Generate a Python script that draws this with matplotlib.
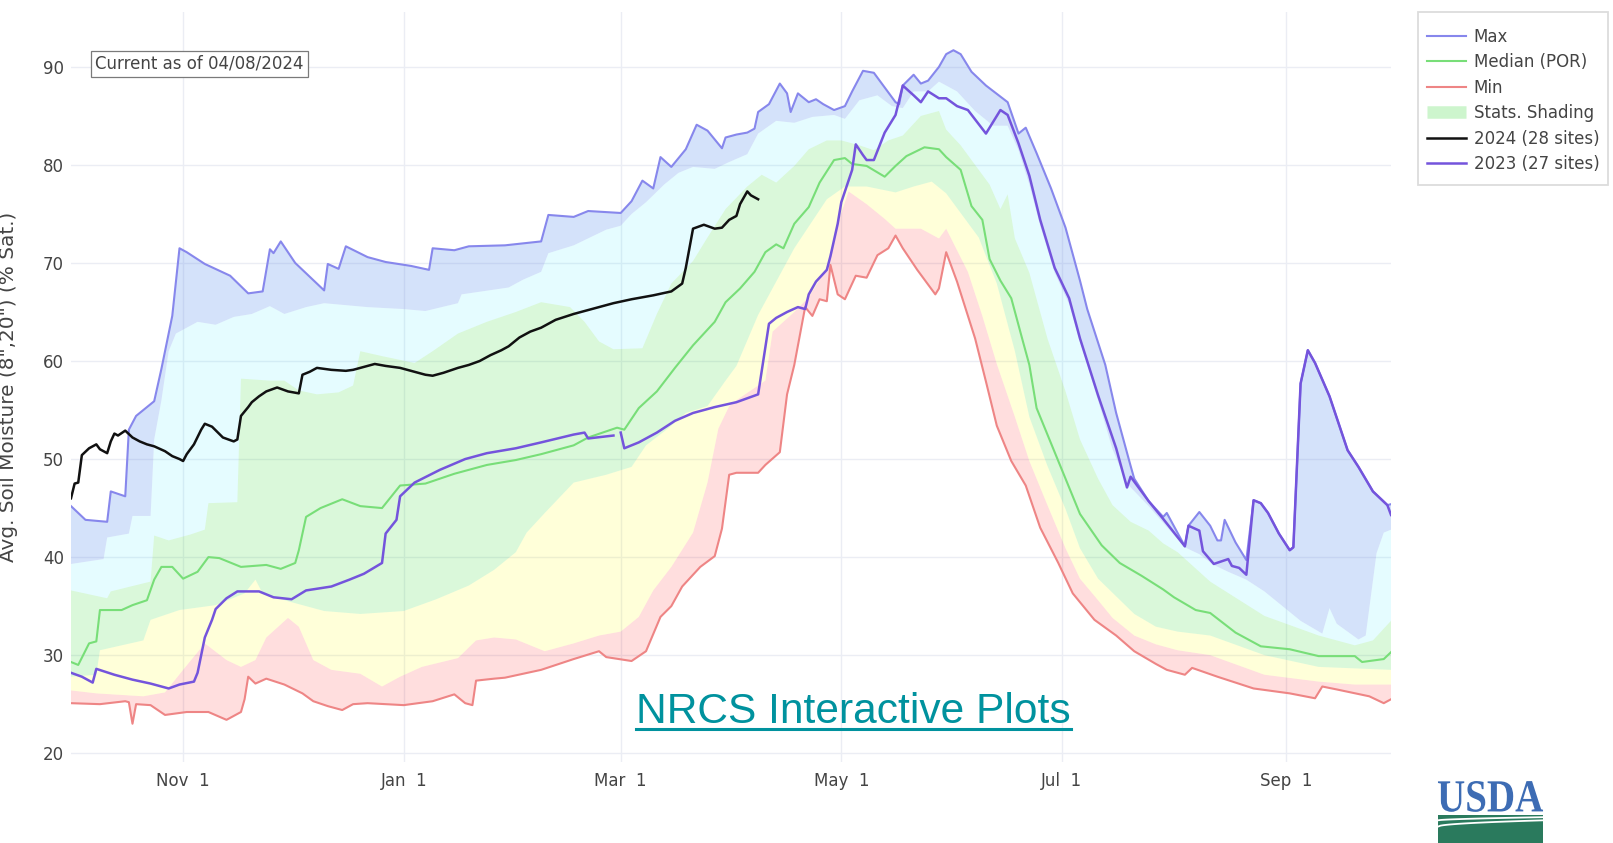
"""
Average soil moisture (8" and 20" depths) for the water year, with
period-of-record statistics shading and the 2023 / 2024 traces.
"""

import numpy as np
import matplotlib
matplotlib.use('Agg')
import matplotlib.pyplot as plt
import matplotlib.dates as mdates
from matplotlib.lines import Line2D
from matplotlib.patches import PathPatch, Rectangle
from matplotlib.textpath import TextPath
from matplotlib.font_manager import FontProperties
from matplotlib.transforms import Affine2D
from matplotlib.ticker import FuncFormatter

# ----------------------------------------------------------------
# Data: day of water year (0 = Oct 1) and % saturation
# ----------------------------------------------------------------
WY_START = np.datetime64('2023-10-01')
WY_END = np.datetime64('2024-09-30')

max_day = [0, 4, 10, 11, 15, 16, 18, 23, 25, 28, 30, 32, 37, 44, 49, 53, 55, 56, 58, 62,
           70, 71, 74, 76, 82, 87, 94, 99, 100, 106, 110, 120, 130, 132, 139, 143, 152, 155, 158, 161,
           163, 166, 170, 173, 176, 180, 181, 184, 187, 189, 190, 193, 196, 198, 199, 201, 204, 206, 208, 211,
           214, 216, 219, 222, 225, 228, 229, 230, 233, 235, 237, 240, 242, 244, 246, 249, 253, 259, 262, 264,
           267, 271, 275, 279, 281, 286, 289, 293, 294, 298, 302, 303, 308, 309, 312, 315, 317, 318, 319, 322,
           325, 327, 329, 331, 334, 337, 338, 340, 342, 344, 348, 353, 356, 360, 364, 365]
max_pct = [45.2, 43.8, 43.6, 46.7, 46.2, 53.0, 54.4, 55.9, 59.2, 64.6, 71.5, 71.1, 69.9, 68.7, 66.9, 67.1, 71.4, 71.0, 72.2, 70.0,
           67.2, 69.9, 69.4, 71.7, 70.6, 70.1, 69.7, 69.3, 71.5, 71.3, 71.7, 71.8, 72.2, 74.9, 74.7, 75.3, 75.1, 76.3, 78.4, 77.6,
           80.8, 79.8, 81.6, 84.1, 83.5, 81.7, 82.8, 83.1, 83.3, 83.7, 85.4, 86.2, 88.3, 87.3, 85.4, 87.3, 86.4, 86.7, 86.2, 85.6,
           86.0, 87.5, 89.6, 89.4, 87.9, 86.4, 86.2, 88.1, 89.2, 88.3, 88.6, 90.0, 91.3, 91.7, 91.3, 89.5, 88.1, 86.4, 83.2, 83.8,
           81.2, 77.6, 73.6, 68.2, 65.3, 59.6, 54.7, 49.3, 48.0, 45.7, 44.1, 44.5, 41.1, 43.2, 44.6, 43.2, 41.7, 41.7, 43.8, 41.5,
           39.7, 45.8, 45.5, 44.5, 42.4, 40.7, 41.0, 57.7, 61.1, 59.8, 56.4, 50.9, 49.2, 46.7, 45.3, 45.4]

median_day = [0, 2, 5, 7, 8, 14, 17, 21, 23, 25, 28, 31, 35, 38, 41, 47, 54, 58, 62, 63,
              65, 69, 75, 80, 86, 91, 98, 106, 115, 123, 130, 139, 143, 151, 153, 157, 162, 167, 172, 178,
              181, 185, 189, 192, 195, 197, 200, 204, 207, 211, 214, 216, 220, 225, 228, 231, 236, 240, 242, 246,
              249, 252, 254, 257, 260, 263, 265, 267, 272, 276, 279, 285, 290, 296, 302, 305, 311, 315, 322, 329,
              337, 345, 355, 357, 363, 365]
median_pct = [29.3, 29.0, 31.2, 31.4, 34.6, 34.6, 35.1, 35.6, 37.7, 39.0, 39.0, 37.8, 38.5, 40.0, 39.9, 39.0, 39.2, 38.8, 39.4, 40.7,
              44.1, 45.0, 45.9, 45.2, 45.0, 47.3, 47.5, 48.5, 49.4, 49.9, 50.5, 51.4, 52.2, 53.2, 53.0, 55.2, 56.9, 59.3, 61.6, 64.0,
              66.0, 67.4, 69.1, 71.1, 71.9, 71.5, 74.0, 75.7, 78.2, 80.5, 80.7, 80.1, 79.9, 78.8, 79.9, 80.9, 81.8, 81.6, 80.8, 79.5,
              75.8, 74.4, 70.4, 68.2, 66.4, 62.3, 59.6, 55.2, 50.7, 47.1, 44.4, 41.2, 39.4, 38.1, 36.7, 35.9, 34.6, 34.3, 32.3, 30.9,
              30.6, 29.9, 29.9, 29.3, 29.6, 30.3]

min_day = [0, 8, 15, 16, 17, 18, 22, 26, 32, 38, 43, 47, 48, 49, 51, 54, 59, 64, 67, 71,
           75, 78, 82, 87, 92, 100, 106, 109, 111, 112, 117, 120, 130, 139, 146, 148, 155, 159, 163, 166,
           169, 174, 178, 180, 182, 184, 190, 192, 196, 198, 200, 203, 205, 207, 209, 210, 212, 214, 217, 220,
           223, 226, 228, 230, 234, 239, 240, 242, 245, 250, 253, 256, 260, 264, 268, 273, 277, 283, 289, 294,
           300, 303, 308, 310, 317, 327, 337, 344, 346, 350, 359, 363, 365]
min_pct = [25.1, 25.0, 25.3, 25.2, 23.0, 25.0, 24.9, 23.9, 24.2, 24.2, 23.4, 24.2, 25.5, 27.8, 27.1, 27.6, 27.0, 26.1, 25.3, 24.8,
           24.4, 25.0, 25.1, 25.0, 24.9, 25.3, 26.0, 25.1, 24.9, 27.4, 27.6, 27.7, 28.5, 29.6, 30.4, 29.8, 29.4, 30.4, 33.9, 35.0,
           37.0, 39.0, 40.1, 42.9, 48.4, 48.6, 48.6, 49.4, 50.7, 56.6, 59.6, 65.5, 64.6, 66.3, 66.1, 69.8, 66.8, 66.3, 68.7, 68.5,
           70.8, 71.5, 72.8, 71.5, 69.3, 66.8, 67.4, 71.1, 68.1, 62.3, 57.9, 53.4, 49.8, 47.3, 43.0, 39.4, 36.3, 33.6, 32.0, 30.4,
           29.1, 28.5, 28.0, 28.7, 27.8, 26.6, 26.1, 25.6, 26.8, 26.5, 25.8, 25.1, 25.5]

# percentile edges of the statistics shading
p10_day = [0, 7, 20, 26, 31, 37, 43, 47, 51, 54, 60, 63, 67, 72, 80, 86, 91, 97, 107, 112,
           117, 123, 131, 139, 146, 152, 157, 161, 166, 172, 176, 179, 182, 184, 188, 192, 194, 200, 204, 209,
           212, 215, 220, 225, 228, 235, 240, 242, 248, 252, 256, 261, 265, 270, 275, 279, 284, 288, 294, 300,
           306, 315, 330, 345, 355, 365]
p10_pct = [26.4, 26.1, 25.8, 26.2, 28.5, 31.2, 29.5, 28.8, 29.5, 31.8, 33.8, 32.9, 29.5, 28.5, 28.1, 26.8, 27.8, 28.8, 29.7, 31.5,
           31.8, 31.6, 30.4, 31.2, 32.0, 32.4, 33.9, 36.6, 39.0, 42.5, 47.6, 53.1, 55.4, 56.0, 57.0, 58.0, 63.0, 65.0, 66.5, 69.5,
           74.0, 77.3, 76.0, 74.5, 73.5, 73.5, 72.5, 73.5, 69.1, 64.6, 59.7, 54.3, 49.8, 45.3, 40.9, 37.8, 35.6, 33.8, 32.0, 31.1,
           30.5, 30.0, 28.0, 27.3, 27.0, 27.0]

p30_day = [0, 7, 8, 20, 22, 30, 40, 48, 51, 53, 60, 70, 80, 92, 101, 110, 117, 123, 126, 131,
           139, 148, 155, 159, 165, 170, 176, 181, 184, 190, 200, 209, 214, 220, 228, 233, 238, 242, 251, 256,
           261, 265, 270, 275, 279, 284, 289, 294, 300, 306, 315, 330, 345, 365]
p30_pct = [27.8, 28.0, 30.5, 31.5, 33.6, 34.6, 35.1, 36.3, 37.7, 36.3, 35.5, 34.5, 34.2, 34.5, 35.7, 37.1, 38.7, 40.5, 42.5, 44.5,
           47.6, 48.4, 49.2, 51.4, 53.1, 54.7, 55.4, 58.0, 59.5, 64.7, 71.5, 76.5, 77.8, 77.8, 77.2, 77.8, 78.3, 77.1, 72.6, 67.9,
           61.0, 54.3, 49.3, 44.9, 40.9, 37.8, 36.0, 34.2, 32.9, 32.4, 32.0, 30.0, 28.8, 28.5]

p70_day = [0, 10, 11, 22, 23, 27, 33, 37, 38, 46, 47, 55, 59, 63, 68, 74, 78, 80, 86, 95,
           100, 107, 115, 123, 130, 138, 142, 146, 150, 158, 162, 166, 172, 176, 181, 187, 191, 195, 200, 204,
           209, 213, 218, 222, 226, 230, 235, 240, 242, 246, 250, 254, 257, 259, 261, 265, 270, 275, 279, 284,
           288, 293, 298, 302, 306, 315, 330, 345, 355, 360, 365]
p70_pct = [36.6, 35.8, 36.5, 37.5, 42.2, 41.7, 42.3, 42.8, 45.5, 45.6, 58.2, 58.0, 58.0, 57.0, 56.6, 56.8, 57.5, 61.0, 60.5, 59.8,
           61.0, 62.8, 64.0, 65.0, 66.0, 65.5, 64.0, 62.0, 61.2, 61.3, 64.8, 67.9, 70.2, 72.6, 75.5, 77.8, 79.0, 78.2, 79.9, 81.6,
           82.5, 82.5, 82.0, 81.5, 82.5, 83.0, 85.0, 85.5, 83.6, 82.0, 80.0, 78.0, 75.5, 77.0, 72.5, 69.0, 62.3, 56.9, 52.0, 48.0,
           45.3, 43.6, 42.7, 41.4, 40.5, 37.5, 34.0, 32.0, 31.0, 31.5, 33.5]

p90_day = [0, 9, 10, 16, 17, 22, 23, 25, 27, 29, 35, 40, 45, 50, 55, 59, 65, 70, 82, 92,
           98, 107, 108, 121, 125, 130, 132, 139, 148, 152, 155, 159, 164, 168, 172, 178, 182, 187, 190, 195,
           200, 205, 211, 214, 218, 223, 227, 230, 233, 237, 240, 245, 250, 255, 259, 262, 265, 268, 272, 276,
           279, 284, 288, 292, 298, 302, 308, 312, 316, 320, 325, 330, 335, 340, 346, 348, 350, 356, 358, 361,
           363, 365]
p90_pct = [39.3, 39.8, 42.0, 42.4, 44.2, 44.2, 52.0, 56.0, 61.0, 62.8, 64.0, 63.7, 64.5, 64.8, 65.6, 64.8, 65.5, 65.9, 65.5, 65.3,
           65.1, 65.9, 66.8, 67.5, 68.3, 69.1, 71.0, 71.8, 73.4, 73.8, 75.0, 76.2, 78.0, 79.2, 79.8, 79.6, 80.3, 81.1, 83.2, 84.5,
           84.3, 84.9, 85.1, 84.7, 86.6, 87.1, 86.0, 85.8, 87.5, 87.5, 88.5, 87.5, 85.5, 84.0, 84.0, 81.5, 78.0, 73.8, 69.0, 65.8,
           62.0, 56.0, 51.0, 47.5, 45.2, 43.5, 41.0, 40.3, 39.2, 38.5, 37.7, 36.5, 35.0, 33.5, 32.2, 34.8, 33.2, 31.6, 32.0, 40.4,
           42.5, 42.8]

wy2024_day = [0, 1, 2, 3, 5, 7, 8, 10, 11, 12, 13, 15, 17, 19, 21, 23, 26, 28, 30, 31,
              32, 34, 36, 37, 39, 42, 45, 46, 47, 49, 50, 52, 54, 57, 60, 63, 64, 66, 68, 72,
              76, 78, 81, 84, 87, 91, 94, 98, 100, 103, 107, 110, 113, 116, 119, 121, 124, 127, 130, 134,
              139, 144, 150, 155, 161, 166, 169, 170, 171, 172, 175, 178, 180, 182, 184, 185, 187, 188, 190]
wy2024_pct = [46.0, 47.5, 47.6, 50.4, 51.1, 51.5, 51.0, 50.6, 51.8, 52.6, 52.4, 52.9, 52.2, 51.8, 51.5, 51.3, 50.8, 50.3, 50.0, 49.8,
              50.5, 51.5, 53.0, 53.6, 53.3, 52.2, 51.8, 52.0, 54.4, 55.3, 55.8, 56.4, 56.9, 57.3, 56.9, 56.7, 58.6, 58.9, 59.3, 59.1,
              59.0, 59.1, 59.4, 59.7, 59.5, 59.3, 59.0, 58.6, 58.5, 58.8, 59.3, 59.6, 60.0, 60.6, 61.1, 61.5, 62.4, 63.0, 63.4, 64.2,
              64.8, 65.3, 65.9, 66.3, 66.7, 67.1, 67.9, 69.5, 71.5, 73.5, 73.9, 73.5, 73.6, 74.4, 74.8, 76.0, 77.3, 76.9, 76.5]

# nan marks the missing stretch at the end of February
wy2023_day = [0, 3, 6, 7, 12, 17, 22, 26, 27, 30, 34, 35, 37, 39, 40, 43, 46, 52, 56, 61,
              65, 72, 77, 81, 86, 87, 90, 91, 95, 102, 109, 115, 123, 130, 139, 142, 143, 150, 151, 152,
              153, 157, 162, 167, 172, 178, 184, 190, 191, 193, 195, 198, 201, 203, 204, 206, 209, 210, 212, 213,
              216, 217, 219, 220, 222, 225, 228, 230, 233, 235, 237, 240, 242, 245, 248, 253, 254, 257, 259, 262,
              265, 268, 272, 276, 279, 284, 289, 292, 293, 298, 302, 305, 308, 309, 312, 313, 316, 320, 321, 323,
              325, 327, 329, 331, 334, 337, 338, 340, 342, 344, 348, 353, 356, 360, 364, 365]
wy2023_pct = [28.2, 27.8, 27.2, 28.6, 28.0, 27.5, 27.1, 26.7, 26.6, 27.0, 27.3, 28.2, 31.8, 33.6, 34.7, 35.8, 36.5, 36.5, 35.9, 35.7,
              36.6, 37.0, 37.7, 38.3, 39.4, 42.4, 43.8, 46.2, 47.6, 48.9, 50.0, 50.6, 51.1, 51.7, 52.5, 52.7, 52.1, 52.4, np.nan, 52.7,
              51.1, 51.7, 52.7, 53.9, 54.7, 55.3, 55.8, 56.6, 59.0, 63.8, 64.4, 65.0, 65.5, 65.3, 66.8, 68.1, 69.3, 70.7, 74.0, 76.2,
              79.5, 82.1, 81.0, 80.5, 80.5, 83.3, 85.1, 88.1, 87.1, 86.4, 87.5, 86.8, 86.8, 86.0, 85.6, 83.2, 83.8, 85.6, 85.1, 82.2,
              78.9, 74.4, 69.5, 66.4, 62.3, 56.5, 51.1, 47.1, 48.2, 45.7, 43.9, 42.5, 41.1, 43.2, 42.7, 40.6, 39.3, 39.8, 39.1, 38.9,
              38.2, 45.8, 45.5, 44.5, 42.4, 40.7, 41.0, 57.7, 61.1, 59.8, 56.4, 50.9, 49.2, 46.7, 45.3, 44.3]

legend_labels = ['Max', 'Median (POR)', 'Min', 'Stats. Shading', '2024 (28 sites)', '2023 (27 sites)']


def xnum(days):
    return mdates.date2num(WY_START + np.asarray(days).astype('timedelta64[D]'))


# ----------------------------------------------------------------
# Figure
# ----------------------------------------------------------------
W, H = 1613, 843
fig = plt.figure(figsize=(W / 100, H / 100), dpi=100)
ax = fig.add_axes([71 / W, 1 - 762 / H, 1320 / W, 750 / H])

TXT = '#444444'
C_MAX = '#8787ec'
C_MED = '#78de78'
C_MIN = '#ee8585'
C_2023 = '#7454dc'


def band(lo_d, lo_v, hi_d, hi_v, color):
    xs = np.concatenate([xnum(hi_d), xnum(lo_d)[::-1]])
    ys = np.concatenate([np.asarray(hi_v), np.asarray(lo_v)[::-1]])
    ax.fill(xs, ys, color=color, lw=0, zorder=1)


band(min_day, min_pct, p10_day, p10_pct, (1.0, 0.0, 0.0, 0.13))
band(p10_day, p10_pct, p30_day, p30_pct, (1.0, 1.0, 0.0, 0.15))
band(p30_day, p30_pct, p70_day, p70_pct, (0.1, 0.85, 0.1, 0.16))
band(p70_day, p70_pct, p90_day, p90_pct, (0.0, 0.9, 1.0, 0.10))
band(p90_day, p90_pct, max_day, max_pct, (0.39, 0.58, 0.93, 0.27))

ax.plot(xnum(max_day), max_pct, color=C_MAX, lw=1.5, zorder=3)
ax.plot(xnum(median_day), median_pct, color=C_MED, lw=1.5, zorder=3)
ax.plot(xnum(min_day), min_pct, color=C_MIN, lw=1.5, zorder=3)
ax.plot(xnum(wy2023_day), wy2023_pct, color=C_2023, lw=1.8, zorder=4)
ax.plot(xnum(wy2024_day), wy2024_pct, color='#111111', lw=1.8, zorder=5)

# axes styling
ax.set_xlim(mdates.date2num(WY_START), mdates.date2num(WY_END))
ax.set_ylim(19.1, 95.6)
ax.set_yticks(np.arange(20, 91, 10))
ax.xaxis.set_major_locator(mdates.MonthLocator(bymonth=[11, 1, 3, 5, 7, 9]))
ax.xaxis.set_major_formatter(FuncFormatter(
    lambda v, pos: f"{mdates.num2date(v):%b}  {mdates.num2date(v).day}"))
ax.tick_params(axis='both', length=0, labelsize=12, colors=TXT)
ax.tick_params(axis='y', pad=5)
ax.tick_params(axis='x', pad=7)
for s in ax.spines.values():
    s.set_visible(False)
ax.grid(True, color='#ebedf4', lw=1)
ax.set_axisbelow(True)

fig.text(9 / W, 1 - 387 / H, 'Avg. Soil Moisture (8",20") (% Sat.)', rotation=90,
         ha='center', va='center', fontsize=14.4, color=TXT)

fig.text(95 / W, 1 - 64 / H, 'Current as of 04/08/2024', fontsize=12, color=TXT,
         ha='left', va='center',
         bbox=dict(boxstyle='square,pad=0.25', fc='white', ec='#7a7a7a', lw=0.9))

# legend, with its frame drawn separately so the padding can be set per side
fig.add_artist(Rectangle((1418 / W, 1 - 185 / H), 190 / W, 173 / H,
                         transform=fig.transFigure, fc='white', ec='#dcdcdc', lw=1.3))
handles = [Line2D([], [], color=C_MAX, lw=1.5),
           Line2D([], [], color=C_MED, lw=1.5),
           Line2D([], [], color=C_MIN, lw=1.5),
           Line2D([], [], color='#cdf5cd', lw=9, solid_capstyle='butt'),
           Line2D([], [], color='#111111', lw=1.8),
           Line2D([], [], color=C_2023, lw=1.8)]
leg = fig.legend(handles, legend_labels, loc='upper left',
                 bbox_to_anchor=(1418 / W, 1 - 18.5 / H), bbox_transform=fig.transFigure,
                 frameon=False, fontsize=12, handlelength=2.3,
                 handletextpad=0.5, labelspacing=0.45, borderpad=0.55, borderaxespad=0)
for t in leg.get_texts():
    t.set_color(TXT)

# link caption with underline
link = fig.text(636 / W, 1 - 723 / H, 'NRCS Interactive Plots', fontsize=30.6,
                family='Liberation Sans', color='#00929e', ha='left', va='baseline')
fig.canvas.draw()
bb = link.get_window_extent()
y_ul = 1 - 728.5 / H
fig.add_artist(Line2D([bb.x0 / W, bb.x1 / W], [y_ul, y_ul], color='#00929e', lw=2.2,
                      transform=fig.transFigure))

# USDA logo
logo = fig.add_axes([1436 / W, 0, 110 / W, 63 / H])
logo.set_xlim(0, 1)
logo.set_ylim(0, 1)
logo.axis('off')
tp = TextPath((0, 0), 'USDA', size=1,
              prop=FontProperties(family='Liberation Serif', weight='bold'))
ext = tp.get_extents()
tr = (Affine2D().translate(-ext.x0, -ext.y0)
      .scale(0.955 / ext.width, 0.49 / ext.height)
      .translate(0.018, 0.494)) + logo.transData
logo.add_patch(PathPatch(tp, fc='#3d6cb4', ec='none', transform=tr))
logo.add_patch(Rectangle((0.018, 0), 0.955, 0.445, fc='#2a7a5d', ec='none'))
s = np.linspace(0, 1, 40)
logo.plot(0.018 + 0.955 * s, 0.36 + 0.05 * s ** 0.6, color='white', lw=1.3)
logo.plot(0.018 + 0.955 * s, 0.26 + 0.10 * s ** 0.5, color='white', lw=1.3)

plt.savefig('out.png', dpi=100)
plt.close()
